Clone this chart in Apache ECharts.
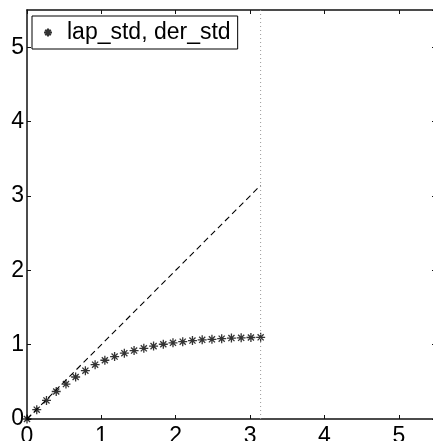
<!DOCTYPE html>
<html>
<head>
<meta charset="utf-8">
<style>
  html, body { margin: 0; padding: 0; background: #fff; }
  #chart { width: 433px; height: 441px; }
</style>
<script src="https://cdn.jsdelivr.net/npm/echarts@6/dist/echarts.min.js"></script>
</head>
<body>
<div id="chart"></div>
<script>
// Sample positions (0 .. pi) and the measured std values
const sampleX = [0, 0.131, 0.262, 0.393, 0.524, 0.654, 0.785, 0.916, 1.047, 1.178, 1.309, 1.440, 1.571,
                 1.702, 1.833, 1.963, 2.094, 2.225, 2.356, 2.487, 2.618, 2.749, 2.880, 3.011, 3.142];
const stdValues = [0, 0.125, 0.25, 0.37, 0.47, 0.565, 0.65, 0.73, 0.79, 0.84, 0.885, 0.92, 0.95,
                   0.98, 1.005, 1.025, 1.04, 1.055, 1.065, 1.072, 1.08, 1.088, 1.092, 1.096, 1.098];
// Reference diagonal y = x up to pi
const diagX = [0, 3.1416];
const diagY = [0, 3.1416];
// Vertical marker at x = pi
const markX = [3.1416, 3.1416];
const markY = [0, 5.5];
const tickValues = [0, 1, 2, 3, 4, 5];
const seriesName = 'lap_std, der_std';

const axisMin = 0, axisMax = 5.5;
const FONT = '"Liberation Sans", Arial, Helvetica, sans-serif';
const FONT_SIZE = 23;
const starPath = 'path://M5,0L5,10M0,5L10,5M1.6,1.6L8.4,8.4M1.6,8.4L8.4,1.6';

const zip = (a, b) => a.map((v, i) => [v, b[i]]);

const mkLine = () => ({ show: true, onZero: false, lineStyle: { color: '#111', width: 1.5 } });
const mkTick = () => ({ show: true, inside: true, length: 4, lineStyle: { color: '#111', width: 1 } });
const labelFmt = v => (tickValues.indexOf(v) >= 0 ? String(v) : '');

const chart = echarts.init(document.getElementById('chart'), null, { renderer: 'canvas' });
chart.setOption({
  animation: false,
  backgroundColor: '#fff',
  textStyle: { fontFamily: FONT },
  grid: { left: 27, top: 10, width: 409, height: 409, containLabel: false, outerBoundsMode: 'none' },
  legend: {
    left: 32, top: 16,
    padding: [5, 7, 5, 11],
    borderColor: '#000', borderWidth: 1,
    itemWidth: 28, itemHeight: 8,
    textStyle: { fontFamily: FONT, fontSize: FONT_SIZE, color: '#000' },
    data: [seriesName]
  },
  xAxis: [
    { type: 'value', position: 'bottom', min: axisMin, max: axisMax, interval: 1,
      axisLine: mkLine(), axisTick: mkTick(), splitLine: { show: false },
      axisLabel: { fontSize: FONT_SIZE, color: '#000', margin: 6, fontFamily: FONT,
                   formatter: labelFmt, showMaxLabel: false } },
    // mirrored frame edge with inward ticks, no labels
    { type: 'value', position: 'top', min: axisMin, max: axisMax, interval: 1,
      axisLine: mkLine(), axisTick: mkTick(), splitLine: { show: false }, axisLabel: { show: false } }
  ],
  yAxis: [
    { type: 'value', position: 'left', min: axisMin, max: axisMax, interval: 1,
      axisLine: mkLine(), axisTick: mkTick(), splitLine: { show: false },
      axisLabel: { fontSize: FONT_SIZE, color: '#000', margin: 3, fontFamily: FONT,
                   formatter: labelFmt, showMaxLabel: false } },
    { type: 'value', position: 'right', min: axisMin, max: axisMax, interval: 1,
      axisLine: mkLine(), axisTick: mkTick(), splitLine: { show: false }, axisLabel: { show: false } }
  ],
  series: [
    {
      type: 'line', name: 'pi', data: zip(markX, markY),
      showSymbol: false, silent: true,
      lineStyle: { color: '#999', width: 1, type: [1, 3] }
    },
    {
      type: 'line', name: 'diag', data: zip(diagX, diagY),
      showSymbol: false, silent: true,
      lineStyle: { color: '#000', width: 1.1, type: [6, 4] }
    },
    {
      type: 'scatter', name: seriesName, data: zip(sampleX, stdValues),
      symbol: starPath, symbolSize: 9,
      itemStyle: { color: 'rgba(0,0,0,0)', borderColor: '#000', borderWidth: 1.3 },
      emphasis: { disabled: true }
    }
  ]
});
</script>
</body>
</html>
